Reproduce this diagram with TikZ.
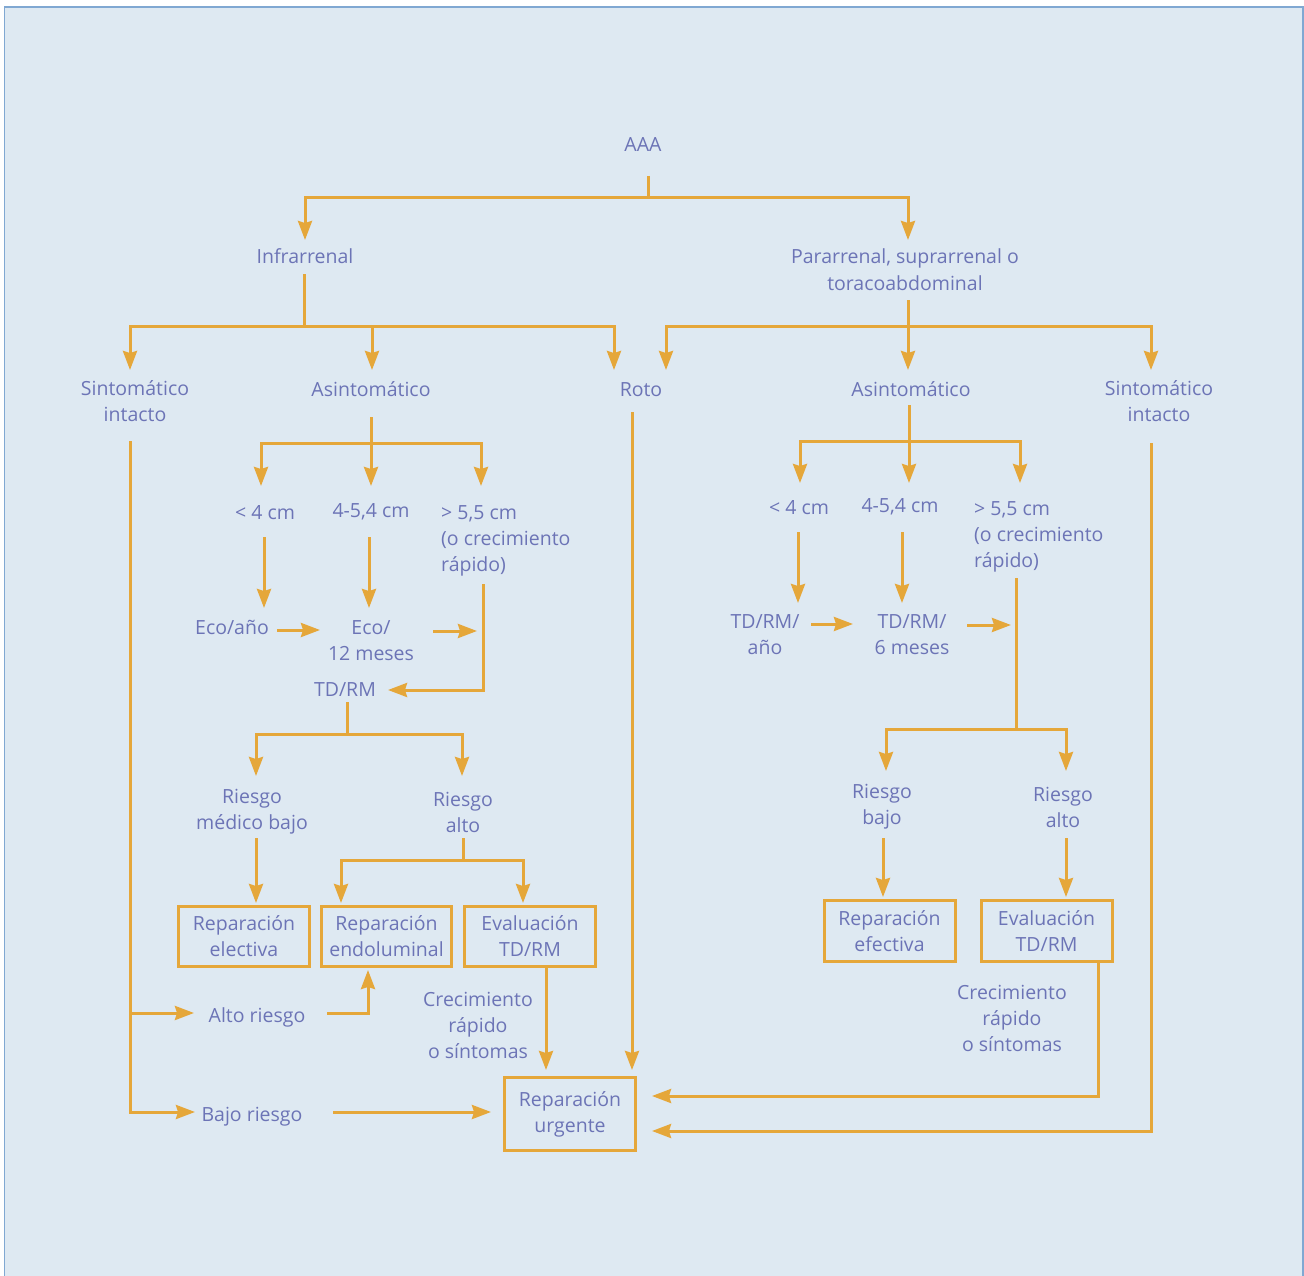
\documentclass[tikz,border=0pt]{standalone}
\usepackage{fontspec}
\setmainfont{Open Sans}
\usetikzlibrary{arrows.meta}
\definecolor{txt}{RGB}{108,116,182}
\definecolor{org}{RGB}{229,167,58}
\definecolor{bg}{RGB}{222,233,242}
\definecolor{frame}{RGB}{128,168,210}
\tikzset{
  lbl/.style={text=txt, align=center, inner sep=0pt, font=\fontsize{19.5}{26}\selectfont},
  ln/.style={draw=org, line width=3pt},
  arr/.style={ln, -{Stealth[length=19pt,width=14pt,inset=2pt]}},
  boxn/.style={lbl, draw=org, line width=3pt, inner sep=0pt},
}
\begin{document}
\begin{tikzpicture}[x=1pt,y=-1pt]
\useasboundingbox (0,0) rectangle (1304,1276);
\fill[bg] (4.5,7) rectangle (1304,1280);
\draw[frame, line width=1.5pt] (4.5,1280) -- (4.5,7) -- (1303,7) -- (1303,1280);

% ---------- text nodes ----------
\node[lbl, anchor=base] (aaa) at (643,152) {AAA};
\node[lbl, anchor=base] (infra) at (305,264) {Infrarrenal};
\node[lbl, anchor=base] (para) at (905,290) {Pararrenal, suprarrenal o\\toracoabdominal};
\node[lbl, anchor=base] (sintL) at (135,421) {Sintomático\\intacto};
\node[lbl, anchor=base] (asintL) at (371,396) {Asintomático};
\node[lbl, anchor=base] (roto) at (641,396) {Roto};
\node[lbl, anchor=base] (asintR) at (911,396) {Asintomático};
\node[lbl, anchor=base] (sintR) at (1159,421) {Sintomático\\intacto};

\node[lbl, anchor=base] (lt4L) at (265,519) {< 4 cm};
\node[lbl, anchor=base] (mid4L) at (371,517) {4-5,4 cm};
\node[lbl, anchor=base west, align=left] (gt55L) at (441,571) {> 5,5 cm\\(o crecimiento\\rápido)};
\node[lbl, anchor=base] (ecoA) at (232,634) {Eco/año};
\node[lbl, anchor=base] (eco12) at (371,660) {Eco/\\12 meses};
\node[lbl, anchor=base] (tdrmL) at (345,696) {TD/RM};
\node[lbl, anchor=base] (rmb) at (252,829) {Riesgo\\médico bajo};
\node[lbl, anchor=base] (raL) at (463,832) {Riesgo\\alto};
\node[lbl, anchor=base] (altoR) at (257,1022) {Alto riesgo};
\node[lbl, anchor=base] (bajoR) at (252,1121) {Bajo riesgo};
\node[lbl, anchor=base] (crecL) at (478,1058) {Crecimiento\\rápido\\o síntomas};

\node[lbl, anchor=base] (lt4R) at (799,514) {< 4 cm};
\node[lbl, anchor=base] (mid4R) at (900,512) {4-5,4 cm};
\node[lbl, anchor=base west, align=left] (gt55R) at (974,567) {> 5,5 cm\\(o crecimiento\\rápido)};
\node[lbl, anchor=base] (tdA) at (765,654) {TD/RM/\\año};
\node[lbl, anchor=base] (td6) at (912,654) {TD/RM/\\6 meses};
\node[lbl, anchor=base] (rbR) at (882,824) {Riesgo\\bajo};
\node[lbl, anchor=base] (raR) at (1063,827) {Riesgo\\alto};
\node[lbl, anchor=base] (crecR) at (1012,1051) {Crecimiento\\rápido\\o síntomas};

% ---------- boxes ----------
\node[boxn, minimum width=131pt, minimum height=60pt] (elec) at (244,936.5) {Reparación\\electiva};
\node[boxn, minimum width=130pt, minimum height=60pt] (endo) at (386.5,936.5) {Reparación\\endoluminal};
\node[boxn, minimum width=131pt, minimum height=60pt] (evalL) at (530,936.5) {Evaluación\\TD/RM};
\node[boxn, minimum width=131pt, minimum height=73pt] (urg) at (570,1114) {Reparación\\urgente};
\node[boxn, minimum width=131pt, minimum height=61pt] (efec) at (889.5,931) {Reparación\\efectiva};
\node[boxn, minimum width=131pt, minimum height=61pt] (evalR) at (1046.5,931) {Evaluación\\TD/RM};

% ---------- coordinates ----------
\coordinate (aaaO) at (648,176);
\coordinate (aaaJ) at (648,198);
\coordinate (infraT) at (305,240);
\coordinate (paraT) at (908,240);
\coordinate (infraO) at (304,274);
\coordinate (infraJ) at (304,326);
\coordinate (sintLT) at (130,370);
\coordinate (asintLT) at (372,370);
\coordinate (rotoT) at (614,370);
\coordinate (paraO) at (908,300);
\coordinate (paraJ) at (908,326);
\coordinate (rotoT2) at (666,370);
\coordinate (asintRT) at (908,370);
\coordinate (sintRT) at (1151,370);

\coordinate (asLO) at (371,417);
\coordinate (asLJ) at (371,443);
\coordinate (lt4LT) at (261,486);
\coordinate (mid4LT) at (371,486);
\coordinate (gt55LT) at (481,486);
\coordinate (lt4LO) at (264,537);
\coordinate (ecoAT) at (264,608);
\coordinate (mid4LO) at (369,537);
\coordinate (eco12T) at (369,608);
\coordinate (ecoAO) at (277,630);
\coordinate (eco12W) at (320,630);
\coordinate (eco12O) at (433,631);
\coordinate (eco12E) at (477,631);
\coordinate (gt55LO) at (483,584);
\coordinate (tdrmLE) at (388,690);
\coordinate (tdLO) at (347,702);
\coordinate (tdLJ) at (347,734);
\coordinate (rmbT) at (256,776);
\coordinate (raLT) at (462,776);
\coordinate (rmbO) at (256,838);
\coordinate (elecT) at (256,903);
\coordinate (raLO) at (463,838);
\coordinate (raLJ) at (463,860);
\coordinate (endoT) at (341,903);
\coordinate (evalLT) at (523,903);
\coordinate (sintLO) at (130,441);
\coordinate (sintLJ) at (130,1013);
\coordinate (altoW) at (194,1013);
\coordinate (bajoW) at (195,1112);
\coordinate (altoE) at (327,1013);
\coordinate (endoB) at (368,970);
\coordinate (bajoE) at (333,1112);
\coordinate (urgW) at (491,1112);
\coordinate (evalLO) at (546,968);
\coordinate (urgT1) at (546,1070);
\coordinate (rotoO) at (632,412);
\coordinate (urgT2) at (632,1070);

\coordinate (asRO) at (909,405);
\coordinate (asRJ) at (909,441);
\coordinate (lt4RT) at (800,483);
\coordinate (mid4RT) at (909,483);
\coordinate (gt55RT) at (1020,483);
\coordinate (lt4RO) at (798,532);
\coordinate (tdAT) at (798,603);
\coordinate (mid4RO) at (902,532);
\coordinate (td6T) at (902,603);
\coordinate (tdAO) at (811,624);
\coordinate (td6W) at (853,624);
\coordinate (td6O) at (967,625);
\coordinate (td6E) at (1011,625);
\coordinate (gt55RO) at (1016,578);
\coordinate (gt55RJ) at (1016,729);
\coordinate (rbRT) at (886,771);
\coordinate (raRT) at (1066,771);
\coordinate (rbRO) at (883,838);
\coordinate (efecT) at (883,897);
\coordinate (raRO) at (1066,838);
\coordinate (evalRT) at (1066,897);
\coordinate (evalRO) at (1098,963);
\coordinate (urgE1) at (652,1096);
\coordinate (sintRO) at (1151,443);
\coordinate (urgE2) at (652,1131);

% ---------- connectors ----------
\draw[ln] (aaaO) -- (aaaJ);
\draw[arr] (aaaJ) -| (infraT);
\draw[arr] (aaaJ) -| (paraT);

\draw[ln] (infraO) -- (infraJ);
\draw[arr] (infraJ) -| (sintLT);
\draw[arr] (infraJ) -| (asintLT);
\draw[arr] (infraJ) -| (rotoT);

\draw[ln] (paraO) -- (paraJ);
\draw[arr] (paraJ) -| (rotoT2);
\draw[arr] (paraJ) -- (asintRT);
\draw[arr] (paraJ) -| (sintRT);

\draw[ln] (asLO) -- (asLJ);
\draw[arr] (asLJ) -| (lt4LT);
\draw[arr] (asLJ) -- (mid4LT);
\draw[arr] (asLJ) -| (gt55LT);
\draw[arr] (lt4LO) -- (ecoAT);
\draw[arr] (mid4LO) -- (eco12T);
\draw[arr] (ecoAO) -- (eco12W);
\draw[arr] (eco12O) -- (eco12E);
\draw[arr] (gt55LO) |- (tdrmLE);
\draw[ln] (tdLO) -- (tdLJ);
\draw[arr] (tdLJ) -| (rmbT);
\draw[arr] (tdLJ) -| (raLT);
\draw[arr] (rmbO) -- (elecT);
\draw[ln] (raLO) -- (raLJ);
\draw[arr] (raLJ) -| (endoT);
\draw[arr] (raLJ) -| (evalLT);

\draw[ln] (sintLO) -- (sintLJ);
\draw[arr] (sintLJ) -- (altoW);
\draw[arr] (sintLJ) |- (bajoW);
\draw[arr] (altoE) -| (endoB);
\draw[arr] (bajoE) -- (urgW);
\draw[arr] (evalLO) -- (urgT1);
\draw[arr] (rotoO) -- (urgT2);

\draw[ln] (asRO) -- (asRJ);
\draw[arr] (asRJ) -| (lt4RT);
\draw[arr] (asRJ) -- (mid4RT);
\draw[arr] (asRJ) -| (gt55RT);
\draw[arr] (lt4RO) -- (tdAT);
\draw[arr] (mid4RO) -- (td6T);
\draw[arr] (tdAO) -- (td6W);
\draw[arr] (td6O) -- (td6E);
\draw[ln] (gt55RO) -- (gt55RJ);
\draw[arr] (gt55RJ) -| (rbRT);
\draw[arr] (gt55RJ) -| (raRT);
\draw[arr] (rbRO) -- (efecT);
\draw[arr] (raRO) -- (evalRT);
\draw[arr] (evalRO) |- (urgE1);
\draw[arr] (sintRO) |- (urgE2);
\end{tikzpicture}
\end{document}
